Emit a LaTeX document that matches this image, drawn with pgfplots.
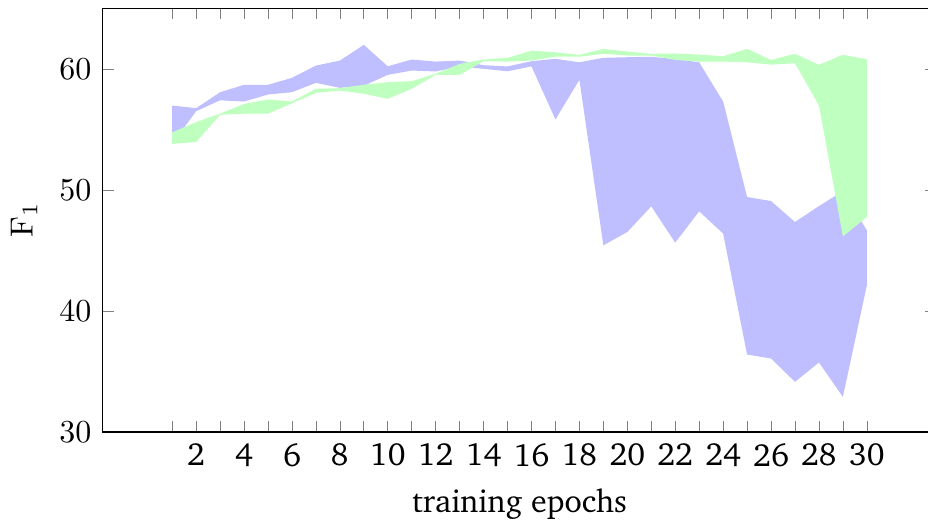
\documentclass[border=0pt]{standalone}
\usepackage[T1]{fontenc}
\usepackage{charter}
\usepackage{pgfplots}
\pgfplotsset{compat=1.18}
\usepgfplotslibrary{fillbetween}
\usepackage{pgfplotstable}
\pgfplotstableread{
x bu bl gu gl
1 56.97 53.8 54.75 53.8
2 56.75 56.5 55.6 53.95
3 58.07 57.4 56.3 56.2
4 58.68 57.3 57.1 56.3
5 58.68 57.88 57.47 56.3
6 59.26 58.07 57.3 57.15
7 60.27 58.84 58.35 58.02
8 60.68 58.43 58.4 58.2
9 61.98 58.6 58.68 57.94
10 60.21 59.5 58.9 57.52
11 60.77 59.86 58.98 58.35
12 60.6 59.78 59.59 59.5
13 60.68 60.2 60.41 59.5
14 60.3 60.0 60.77 60.63
15 60.2 59.8 60.91 60.6
16 60.63 60.2 61.5 60.68
17 60.83 55.82 61.37 61.0
18 60.54 59.09 61.15 61.0
19 60.91 45.42 61.65 61.24
20 60.96 46.52 61.43 61.1
21 61.0 48.64 61.24 61.1
22 60.8 45.64 61.27 60.74
23 60.54 48.23 61.18 60.6
24 57.3 46.39 61.04 60.6
25 49.41 36.4 61.65 60.54
26 49.08 36.07 60.74 60.35
27 47.35 34.14 61.24 60.46
28 48.66 35.74 60.33 56.97
29 49.9 32.9 61.16 46.16
30 46.66 42.12 60.79 47.76
}\data
\begin{document}
\begin{tikzpicture}
\begin{axis}[
  at={(0pt,0pt)}, anchor=south west,
  scale only axis,
  width=260.5pt, height=132.4pt,
  xmin=-1.9, xmax=32.9, ymin=30, ymax=65,
  xtick={1,...,30},
  xticklabels={,2,,4,,6,,8,,10,,12,,14,,16,,18,,20,,22,,24,,26,,28,,30},
  ytick={30,40,50,60},
  xlabel={training epochs},
  ylabel={$\mathrm{F}_1$},
  major tick length=3.4pt,
  tick style={gray},
]
\addplot[name path=bu, draw=none, forget plot] table[x=x, y=bu] {\data};
\addplot[name path=bl, draw=none, forget plot] table[x=x, y=bl] {\data};
\addplot[name path=gu, draw=none, forget plot] table[x=x, y=gu] {\data};
\addplot[name path=gl, draw=none, forget plot] table[x=x, y=gl] {\data};
\addplot[blue!25, draw=none] fill between[of=bu and bl];
\addplot[green!25, draw=none] fill between[of=gu and gl];
\end{axis}
\pgfresetboundingbox
\path[use as bounding box] (-32.1pt,-27.8pt) rectangle (257.9pt,135.0pt);
\end{tikzpicture}
\end{document}
